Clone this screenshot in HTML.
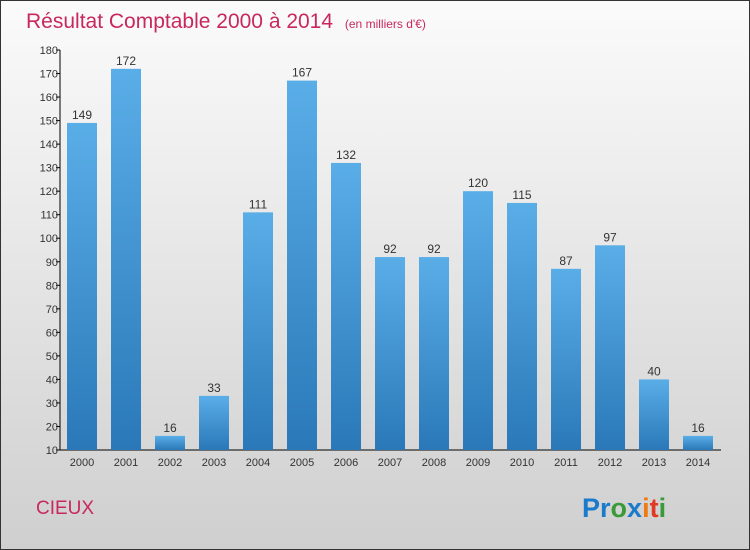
<!DOCTYPE html>
<html><head><meta charset="utf-8"><style>
body{margin:0;}
#wrap{width:750px;height:550px;position:relative;overflow:hidden;}
svg text{font-family:"Liberation Sans",sans-serif;}
</style></head><body>
<div id="wrap">
<svg id="chart" width="750" height="550" xmlns="http://www.w3.org/2000/svg">
<defs>
<linearGradient id="bg" x1="0" y1="0" x2="0" y2="1"><stop offset="0" stop-color="#fbfbfb"/><stop offset="1" stop-color="#cfcfcf"/></linearGradient>
<linearGradient id="bar" x1="0" y1="0" x2="0" y2="1"><stop offset="0" stop-color="#5aaee8"/><stop offset="1" stop-color="#2a78b8"/></linearGradient>
</defs>
<rect x="0.5" y="0.5" width="749" height="549" fill="url(#bg)" stroke="#333"/>
<text x="26" y="28" font-size="21" fill="#c8285e">Résultat Comptable 2000 à 2014 <tspan font-size="12" dx="6">(en milliers d'€)</tspan></text>
<text x="36" y="514" font-size="19" fill="#c8285e">CIEUX</text>
<text x="582" y="517" font-size="27" font-weight="bold"><tspan fill="#1a7acc">Pr</tspan><tspan fill="#3a9a3a">o</tspan><tspan fill="#1a7acc">x</tspan><tspan fill="#f07a10">i</tspan><tspan fill="#e03a20">t</tspan><tspan fill="#3a9a3a">i</tspan></text>
<g id="axes"></g><g id="bars"></g>
</svg>
</div>
<script>
const categories=["2000","2001","2002","2003","2004","2005","2006","2007","2008","2009","2010","2011","2012","2013","2014"];
const values=[149,172,16,33,111,167,132,92,92,120,115,87,97,40,16];
const yTicks=[10,20,30,40,50,60,70,80,90,100,110,120,130,140,150,160,170,180];
const NS="http://www.w3.org/2000/svg";
const yMin=10,yMax=180,plotTop=50,plotBot=450,plotX0=60,plotX1=721;
function y(v){return plotBot-(v-yMin)/(yMax-yMin)*(plotBot-plotTop);}
function xc(i){return 82+i*44;}
function mk(tag,attrs,parent,txt){const e=document.createElementNS(NS,tag);for(const k in attrs)e.setAttribute(k,attrs[k]);if(txt!==undefined)e.textContent=txt;parent.appendChild(e);return e;}
const ax=document.getElementById('axes'),bg=document.getElementById('bars');
let l=mk('line',{x1:plotX0,y1:plotTop,x2:plotX0,y2:plotBot,stroke:'#000'},ax);


l=mk('line',{x1:plotX0,y1:plotBot,x2:plotX1,y2:plotBot,stroke:'#000'},ax);


yTicks.forEach(t=>{
 const tk=mk('line',{x1:plotX0-4,y1:y(t),x2:plotX0,y2:y(t),stroke:'#000'},ax);
 
 
 const tx=mk('text',{x:plotX0-2,y:y(t)+4,'font-size':11,'text-anchor':'end',fill:'#333'},ax,t);
 
 
});
categories.forEach((c,i)=>{
 const v=values[i];
 const r=mk('rect',{x:xc(i)-15,y:y(v),width:30,height:plotBot-y(v),fill:'url(#bar)'},bg);
 
 
 const vl=mk('text',{x:xc(i),y:y(v)-4,'font-size':12,'text-anchor':'middle',fill:'#333'},bg,v);
 
 
 const xl=mk('text',{x:xc(i),y:plotBot+16,'font-size':11,'text-anchor':'middle',fill:'#333'},ax,c);
 
 
});
</script>
</body></html>
